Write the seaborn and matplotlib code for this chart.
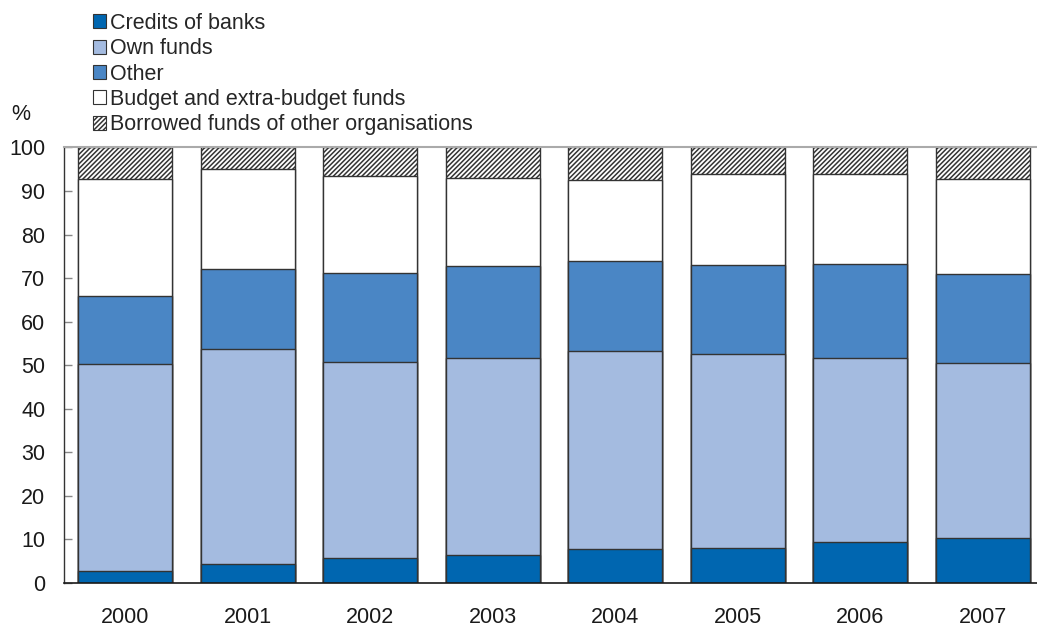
import matplotlib
matplotlib.use("Agg")
import matplotlib.pyplot as plt
import matplotlib.patches as mpatches
import numpy as np
import pandas as pd
import seaborn as sns

# Shares of investment financing sources, % of total
years = ["2000", "2001", "2002", "2003", "2004", "2005", "2006", "2007"]
credits_of_banks = [2.8, 4.3, 5.8, 6.4, 7.7, 8.0, 9.3, 10.3]
own_funds = [47.5, 49.4, 44.9, 45.2, 45.6, 44.5, 42.3, 40.3]
other = [15.7, 18.3, 20.4, 21.1, 20.7, 20.6, 21.6, 20.3]
budget_funds = [26.7, 23.0, 22.4, 20.4, 18.5, 20.9, 20.7, 21.9]
borrowed_funds = [7.3, 5.0, 6.5, 6.9, 7.5, 6.0, 6.1, 7.2]

series = [
    ("Credits of banks", credits_of_banks, "#0066b0", ""),
    ("Own funds", own_funds, "#a4bbe0", ""),
    ("Other", other, "#4a86c5", ""),
    ("Budget and extra-budget funds", budget_funds, "#ffffff", ""),
    ("Borrowed funds of other organisations", borrowed_funds, "#ffffff", "///////"),
]

sns.set_theme(style="white")
plt.rcParams["font.family"] = ["Liberation Sans", "DejaVu Sans"]
plt.rcParams["hatch.linewidth"] = 1.1

FS = 15.5

fig = plt.figure(figsize=(10.37, 6.26), dpi=100)
ax = fig.add_axes([0.0617, 0.0687, 0.945, 0.6957])

# Stacked bars: draw cumulative totals from the top layer down
values = np.array([s[1] for s in series])
cumulative = values.cumsum(axis=0)
for i in range(len(series) - 1, -1, -1):
    name, _, color, hatch = series[i]
    df = pd.DataFrame({"year": years, "value": cumulative[i]})
    sns.barplot(data=df, x="year", y="value", ax=ax, color=color,
                width=0.77, saturation=1, edgecolor="#333333",
                linewidth=1.0, hatch=hatch if hatch else None)

ax.set_xlim(-0.5, 7.5)
ax.set_ylim(0, 100)
ax.set_yticks(range(0, 101, 10))
ax.set_xlabel("")
ax.set_ylabel("")
ax.tick_params(axis="y", direction="in", length=6, width=1, color="#888888",
               labelsize=FS, pad=13.5, left=True)
ax.tick_params(axis="x", length=0, labelsize=FS, pad=17)
for lab in ax.get_xticklabels() + ax.get_yticklabels():
    lab.set_color("#1a1a1a")

ax.spines["right"].set_visible(False)
ax.spines["top"].set_color("#aaaaaa")
ax.spines["top"].set_linewidth(1.5)
ax.spines["left"].set_color("#333333")
ax.spines["bottom"].set_color("#1a1a1a")
ax.spines["left"].set_linewidth(1.0)
ax.spines["bottom"].set_linewidth(1.2)

fig.text(0.011, 0.817, "%", fontsize=FS, color="#1a1a1a", va="center")

handles = [mpatches.Patch(facecolor=c, edgecolor="#333333", hatch=h if h else None,
                          linewidth=0.8, label=n) for n, _, c, h in series]
fig.legend(handles=handles, loc="upper left", bbox_to_anchor=(0.081, 0.993),
           frameon=False, fontsize=FS, handlelength=0.62, handleheight=0.62,
           handletextpad=0.2, labelspacing=0.2, borderaxespad=0.0)

fig.savefig("out.png", dpi=100)
